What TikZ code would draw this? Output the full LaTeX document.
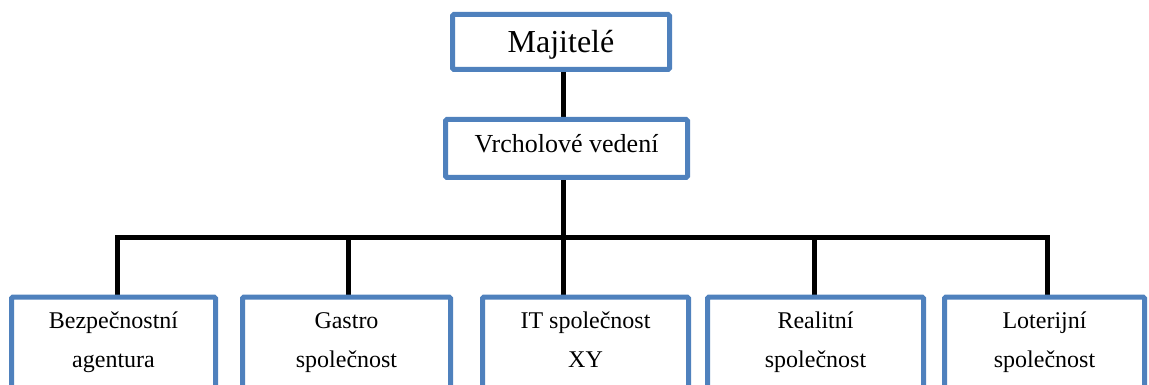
\documentclass[tikz,border=0pt]{standalone}
\usepackage{fontspec}
\setmainfont{Liberation Serif}
\usetikzlibrary{backgrounds}
\definecolor{boxblue}{HTML}{4F81BD}
\begin{document}
\begin{tikzpicture}[x=1pt,y=-1pt,
  orgbox/.style={draw=boxblue, line width=5pt, rounded corners=1.5pt, fill=white, inner sep=0pt},
  link/.style={line width=5pt, draw=black, line join=miter},
  unittext/.style={font=\fontsize{24}{39}\selectfont, align=center, anchor=base, inner sep=0pt}]
\useasboundingbox (0,0) rectangle (1149,385);
\clip (0,0) rectangle (1149,385);

% top levels
\node[orgbox, minimum width=217pt, minimum height=55pt,
      font=\fontsize{32}{38}\selectfont, text height=22pt, text depth=0pt] (maj) at (561,42) {Majitelé};
\node[orgbox, minimum width=242pt, minimum height=58pt,
      font=\fontsize{26}{31}\selectfont, text height=18pt, text depth=9pt] (vrch) at (566.5,148.5) {Vrcholové vedení};

% subsidiaries
\node[orgbox, anchor=north, minimum width=204pt, minimum height=150pt] (b1) at (113.5,294.5) {};
\node[orgbox, anchor=north, minimum width=208pt, minimum height=150pt] (b2) at (346.5,294.5) {};
\node[orgbox, anchor=north, minimum width=206pt, minimum height=150pt] (b3) at (585.5,294.5) {};
\node[orgbox, anchor=north, minimum width=216pt, minimum height=150pt] (b4) at (815.5,294.5) {};
\node[orgbox, anchor=north, minimum width=200pt, minimum height=150pt] (b5) at (1044.5,294.5) {};

% two-line labels: base anchor sits on the last line
\node[unittext] (t1) at ([yshift=-72.5pt]b1.north) {Bezpečnostní\\agentura};
\node[unittext] (t2) at ([yshift=-72.5pt]b2.north) {Gastro\\společnost};
\node[unittext] (t3) at ([yshift=-72.5pt]b3.north) {IT společnost\\XY};
\node[unittext] (t4) at ([yshift=-72.5pt]b4.north) {Realitní\\společnost};
\node[unittext] (t5) at ([yshift=-72.5pt]b5.north) {Loterijní\\společnost};

% bus and drop points
\coordinate (bus) at (563,237);
\coordinate (d1) at (117,237);
\coordinate (d2) at (348,237);
\coordinate (d4) at (814,237);
\coordinate (d5) at (1047,237);

\begin{pgfonlayer}{background}
  \draw[link] (maj.south -| bus) -- (vrch.north -| bus);
  \draw[link] (vrch.south -| bus) -- (b3.north -| bus);
  \draw[link] (d1 |- b1.north) -- (d1) -- (d5) -- (d5 |- b5.north);
  \draw[link] (d2) -- (d2 |- b2.north);
  \draw[link] (d4) -- (d4 |- b4.north);
\end{pgfonlayer}
\end{tikzpicture}
\end{document}
